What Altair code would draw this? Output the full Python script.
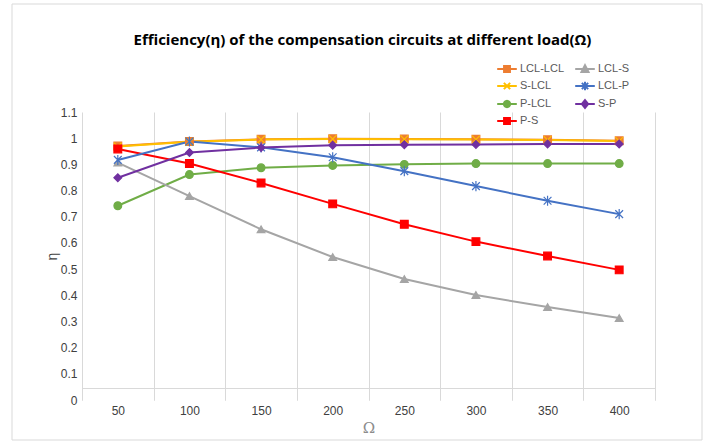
import math
import altair as alt
import pandas as pd

# Load values (Ω) on the category axis
loads = ["50", "100", "150", "200", "250", "300", "350", "400"]

# Efficiency of each compensation topology at every load
lcl_lcl = [0.970, 0.987, 0.996, 0.998, 0.997, 0.996, 0.994, 0.990]
s_lcl = [0.968, 0.986, 0.995, 0.997, 0.996, 0.995, 0.993, 0.989]
p_lcl = [0.742, 0.861, 0.887, 0.896, 0.900, 0.903, 0.903, 0.903]
p_s = [0.959, 0.903, 0.829, 0.749, 0.671, 0.605, 0.550, 0.497]
lcl_s = [0.907, 0.779, 0.652, 0.546, 0.462, 0.401, 0.355, 0.313]
lcl_p = [0.917, 0.987, 0.965, 0.927, 0.874, 0.817, 0.761, 0.710]
s_p = [0.849, 0.945, 0.964, 0.973, 0.975, 0.976, 0.978, 0.978]

series = ["LCL-LCL", "S-LCL", "P-LCL", "P-S", "LCL-S", "LCL-P", "S-P"]
values = [lcl_lcl, s_lcl, p_lcl, p_s, lcl_s, lcl_p, s_p]
colors = ["#ED7D31", "#FFC000", "#70AD47", "#FF0000", "#A5A5A5", "#4472C4", "#7030A0"]

y_ticks = [0, 0.1, 0.2, 0.3, 0.4, 0.5, 0.6, 0.7, 0.8, 0.9, 1.0, 1.1]

# Marker shapes on the lines
x_mark = "M-1,-1L1,1M-1,1L1,-1"
star_mark = "M-1,-1L1,1M-1,1L1,-1M0,-1.3L0,1.3"
marker_shapes = ["square", x_mark, "circle", "square", "triangle-up", star_mark, "diamond"]


def ring(r, n=16):
    pts = [(r * math.cos(2 * math.pi * k / n), r * math.sin(2 * math.pi * k / n)) for k in range(n)]
    return "M" + "L".join(f"{x:.3f},{y:.3f}" for x, y in pts) + "Z"


# Legend symbols: a short line segment with the marker in its middle
seg = "M-1.4,0L1.4,0"
legend_shapes = [
    seg + "M-0.42,-0.42L0.42,-0.42L0.42,0.42L-0.42,0.42Z",
    seg + "M-0.45,-0.45L0.45,0.45M-0.45,0.45L0.45,-0.45",
    seg + ring(0.45),
    seg + "M-0.42,-0.42L0.42,-0.42L0.42,0.42L-0.42,0.42Z",
    seg + "M0,-0.55L0.5,0.4L-0.5,0.4Z",
    seg + "M-0.45,-0.45L0.45,0.45M-0.45,0.45L0.45,-0.45M0,-0.6L0,0.6",
    seg + "M0,-0.55L0.45,0L0,0.55L-0.45,0Z",
]

rows = []
for name, vals in zip(series, values):
    for load, v in zip(loads, vals):
        rows.append({"load": load, "series": name, "eta": v})
df = pd.DataFrame(rows)

x_enc = alt.X(
    "load:O",
    sort=loads,
    scale=alt.Scale(type="band", paddingInner=0, paddingOuter=0),
    axis=alt.Axis(
        title="Ω",
        tickBand="extent",
        grid=True,
        gridColor="#d9d9d9",
        domainColor="#d9d9d9",
        tickColor="#d9d9d9",
        tickSize=12,
        offset=-12,
        labelAngle=0,
        labelPadding=5,
        labelFont="Liberation Sans",
        labelFontSize=12,
        labelColor="#404040",
        titleFont="DejaVu Serif",
        titleFontSize=15,
        titleFontWeight="normal",
        titleColor="#8c8c8c",
        titlePadding=4,
    ),
)
y_enc = alt.Y(
    "eta:Q",
    scale=alt.Scale(domain=[0, 1.1], nice=False, zero=False),
    axis=alt.Axis(
        title="η",
        values=y_ticks,
        format="~g",
        domain=False,
        ticks=False,
        grid=False,
        labelPadding=5,
        labelFont="Liberation Sans",
        labelFontSize=12,
        labelColor="#404040",
        titleFont="Liberation Sans",
        titleFontSize=14,
        titleFontWeight="normal",
        titleColor="#404040",
        titlePadding=1,
    ),
)
color_scale = alt.Scale(domain=series, range=colors)

legend = alt.Legend(
    title=None,
    orient="none",
    legendX=417,
    legendY=-51,
    columns=2,
    padding=0,
    symbolSize=196,
    symbolOpacity=1,
    symbolStrokeWidth=2,
    rowPadding=1,
    columnPadding=6,
    labelOffset=5,
    labelFont="Liberation Sans",
    labelFontSize=11,
    labelColor="#595959",
)

# One line layer and one marker layer per series, each with fixed colour and marker
line_layers = [
    alt.Chart(df)
    .transform_filter(alt.datum.series == name)
    .mark_line(strokeWidth=2, color=col)
    .encode(x=x_enc, y=y_enc)
    for name, col in zip(series, colors)
]
marker_layers = [
    alt.Chart(df)
    .transform_filter(alt.datum.series == name)
    .mark_point(filled=True, size=60, shape=shape, color=col, stroke=col, strokeWidth=1.2, opacity=1)
    .encode(x=x_enc, y=y_enc)
    for name, shape, col in zip(series, marker_shapes, colors)
]

# Invisible layer whose only job is to carry the line-and-marker legend
key = alt.Chart(df).mark_point(filled=True, opacity=0).encode(
    x=x_enc,
    y=y_enc,
    color=alt.Color("series:N", scale=color_scale, legend=legend),
    stroke=alt.Stroke("series:N", scale=color_scale, legend=legend),
    shape=alt.Shape("series:N", scale=alt.Scale(domain=series, range=legend_shapes), legend=legend),
)

frame = alt.Chart(pd.DataFrame({"f": [0]})).mark_rect(
    fill="transparent", stroke="#d9d9d9", strokeWidth=1
).encode(
    x=alt.value(-70), x2=alt.value(620), y=alt.value(-108), y2=alt.value(328)
)

chart = (
    alt.layer(frame, *line_layers, *marker_layers, key)
    .properties(
        width=573,
        height=288,
        padding={"left": 82, "top": 112, "right": 54, "bottom": 41},
        autosize="none",
        title=alt.TitleParams(
            "Efficiency(η)  of  the  compensation  circuits  at  different  load(Ω)",
            font="Open Sans",
            fontSize=15,
            fontWeight="bold",
            color="#000000",
            anchor="middle",
            baseline="bottom",
            offset=-59,
            dx=-6,
        ),
        background="white",
    )
    .configure_view(stroke=None)
)

chart.save("out.html", embed_options={"renderer": "svg", "actions": False})
